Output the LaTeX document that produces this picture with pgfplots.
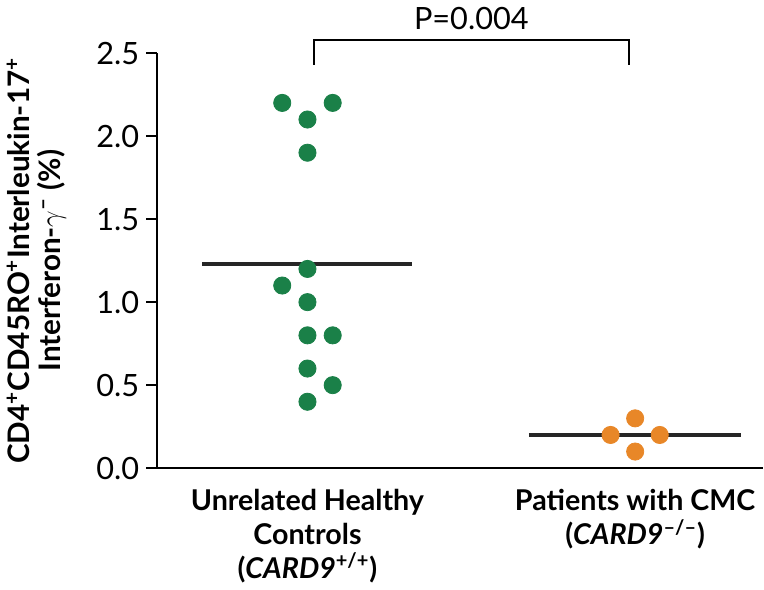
\documentclass[border=0pt]{standalone}
\usepackage{pgfplots}
\pgfplotsset{compat=1.18}
\usepackage{fontspec}
\setmainfont{Lato}
\definecolor{ctrlgreen}{HTML}{1A8048}
\definecolor{cmcorange}{HTML}{E88728}
\begin{document}
\begin{tikzpicture}
\begin{axis}[
    width=296.5pt, height=203pt, scale only axis,
    xmin=0.54, xmax=2.39,
    ymin=0, ymax=2.5,
    axis x line=bottom, axis y line=left,
    axis line style={-, line width=1pt},
    clip=false,
    ytick={0,0.5,...,2.5},
    yticklabel style={/pgf/number format/.cd, fixed, fixed zerofill, precision=1},
    /pgf/number format/assume math mode=true,
    tick label style={font=\fontsize{15}{17}\selectfont},
    y tick style={line width=0.8pt, black},
    tick align=outside, major tick length=5pt,
    xtick={1,2},
    major x tick style={draw=none},
    xticklabels={{Unrelated Healthy\\Controls\\(\textit{CARD9}\textsuperscript{+/+})},
                 {Patients with CMC\\(\textit{CARD9}\textsuperscript{--/--})}},
    xticklabel style={align=center, font=\fontsize{14}{16.5}\selectfont\bfseries, yshift=-2pt},
    ylabel={\bfseries CD4\textsuperscript{+}CD45RO\textsuperscript{+}Interleukin-17\textsuperscript{+}\\ \bfseries Interferon-$\gamma$\textsuperscript{--} (\%)},
    ylabel style={align=center, font=\fontsize{14.5}{15}\selectfont, yshift=8pt},
]
\addplot[only marks, mark=*, mark size=4.2pt, color=ctrlgreen] coordinates {
    (0.923,2.2) (1.077,2.2) (1.0,2.1) (1.0,1.9)
    (1.0,1.2) (0.923,1.1) (1.0,1.0) (1.0,0.8) (1.077,0.8)
    (1.0,0.6) (1.077,0.5) (1.0,0.4)
};
\addplot[only marks, mark=*, mark size=4.2pt, color=cmcorange] coordinates {
    (2.0,0.3) (1.925,0.2) (2.075,0.2) (2.0,0.1)
};
\addplot[line width=2pt, color=black!85] coordinates {(0.679,1.23) (1.318,1.23)};
\addplot[line width=2pt, color=black!85] coordinates {(1.676,0.2) (2.324,0.2)};
\draw[line width=1pt] (axis cs:1.019,2.43) -- (axis cs:1.019,2.58) -- (axis cs:1.981,2.58) -- (axis cs:1.981,2.43);
\node[above, font=\fontsize{15}{17}\selectfont] at (axis cs:1.5,2.6) {P=0.004};
\end{axis}
\end{tikzpicture}
\end{document}
